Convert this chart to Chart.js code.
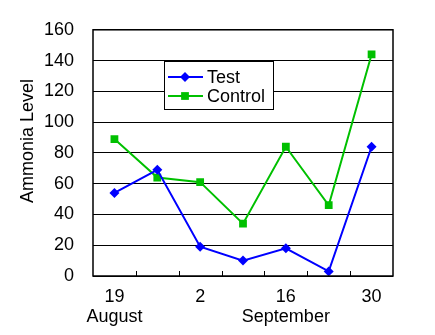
<!DOCTYPE html>
<html>
<head>
<meta charset="utf-8">
<script src="https://cdn.jsdelivr.net/npm/chart.js@4.4.1/dist/chart.umd.min.js"></script>
<style>
  html, body { margin: 0; padding: 0; background: #fff; }
  #wrap { width: 435px; height: 335px; }
</style>
</head>
<body>
<div id="wrap"><canvas id="chart" width="435" height="335"></canvas></div>
<script>
// sampling dates (weekly)
const dates = ['Aug 19', 'Aug 26', 'Sep 2', 'Sep 9', 'Sep 16', 'Sep 23', 'Sep 30'];
const tickLabels = [['19', 'August'], '', ['2', ''], '', ['16', 'September'], '', ['30', '']];
const testValues = [54, 69, 19, 10, 18, 3, 84];
const controlValues = [89, 64, 61, 34, 84, 46, 144];
const yTitle = 'Ammonia Level';

const FONT = 'Liberation Sans, Arial, Helvetica, sans-serif';

// box round the plot, small inward ticks between categories, y title
const frame = {
    id: 'frame',
    afterDraw(chart) {
        const ctx = chart.ctx;
        const a = chart.chartArea;
        const x = chart.scales.x;
        ctx.save();
        ctx.strokeStyle = '#000';
        ctx.lineWidth = 1.5;
        ctx.strokeRect(a.left, a.top, a.right - a.left, a.bottom - a.top);
        ctx.lineWidth = 1;
        for (let i = 1; i < dates.length; i++) {
            const px = Math.round((x.getPixelForTick(i - 1) + x.getPixelForTick(i)) / 2) + 0.5;
            ctx.beginPath();
            ctx.moveTo(px, a.bottom);
            ctx.lineTo(px, a.bottom - 5);
            ctx.stroke();
        }
        // axis title sits a bit above the middle in the original
        ctx.translate(28, 141);
        ctx.rotate(-Math.PI / 2);
        ctx.font = '18px ' + FONT;
        ctx.fillStyle = '#000';
        ctx.textAlign = 'center';
        ctx.textBaseline = 'middle';
        ctx.fillText(yTitle, 0, 0);
        ctx.restore();
    }
};

// legend box inside the plot
const boxLegend = {
    id: 'boxLegend',
    afterDraw(chart) {
        const ctx = chart.ctx;
        const left = 164, top = 61, w = 109, h = 48;
        ctx.save();
        ctx.fillStyle = '#fff';
        ctx.fillRect(left, top, w, h);
        ctx.strokeStyle = '#000';
        ctx.lineWidth = 1;
        ctx.strokeRect(left + 0.5, top + 0.5, w, h);
        ctx.font = '18px ' + FONT;
        ctx.textBaseline = 'middle';
        chart.data.datasets.forEach((ds, i) => {
            const y = top + 16 + i * 19;
            ctx.strokeStyle = ds.borderColor;
            ctx.lineWidth = 2;
            ctx.beginPath();
            ctx.moveTo(left + 4, y);
            ctx.lineTo(left + 39, y);
            ctx.stroke();
            ctx.fillStyle = ds.backgroundColor;
            Chart.helpers.drawPoint(ctx, { pointStyle: ds.pointStyle, radius: ds.pointRadius, rotation: 0, borderWidth: 0 }, left + 21, y);
            ctx.fillStyle = '#000';
            ctx.fillText(ds.label, left + 43, y + 1);
        });
        ctx.restore();
    }
};

new Chart(document.getElementById('chart'), {
    type: 'line',
    data: {
        labels: dates,
        datasets: [
            {
                label: 'Test',
                data: testValues,
                borderColor: '#0000ff',
                backgroundColor: '#0000ff',
                borderWidth: 2,
                pointStyle: 'rectRot',
                pointRadius: 5,
                pointBorderWidth: 0,
                tension: 0
            },
            {
                label: 'Control',
                data: controlValues,
                borderColor: '#00c000',
                backgroundColor: '#00c000',
                borderWidth: 2,
                pointStyle: 'rect',
                pointRadius: 5.5,
                pointBorderWidth: 0,
                tension: 0
            }
        ]
    },
    options: {
        responsive: false,
        animation: false,
        layout: { padding: { left: 0, right: 42, top: 21, bottom: 0 } },
        plugins: {
            legend: { display: false },
            tooltip: { enabled: false }
        },
        scales: {
            x: {
                offset: true,
                grid: { display: false },
                border: { display: false },
                afterFit: s => { s.height = 59; },
                ticks: {
                    autoSkip: false,
                    maxRotation: 0,
                    padding: 3,
                    color: '#000',
                    font: { family: FONT, size: 18, lineHeight: 1.1 },
                    callback: (v, i) => tickLabels[i]
                }
            },
            y: {
                min: 0,
                max: 160,
                afterFit: s => { s.width = 93; },
                grid: { color: '#000', lineWidth: 1, drawTicks: false },
                border: { display: false },
                ticks: {
                    stepSize: 20,
                    padding: 19,
                    color: '#000',
                    font: { family: FONT, size: 18 }
                }
            }
        }
    },
    plugins: [frame, boxLegend]
});
</script>
</body>
</html>
